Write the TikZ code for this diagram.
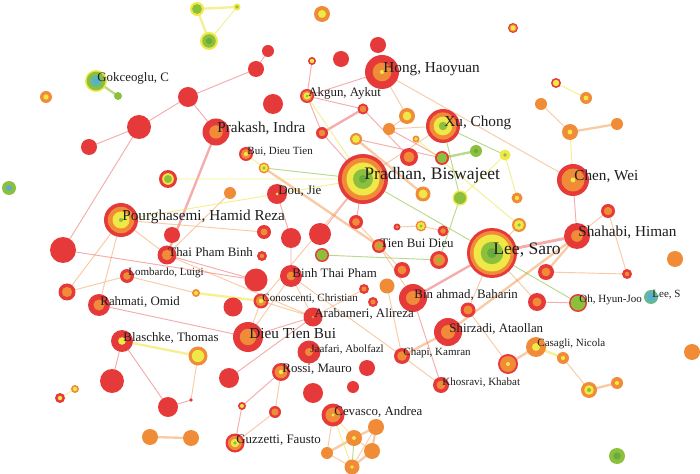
\documentclass[tikz,border=0pt]{standalone}
\usepackage{fontspec}
\setmainfont{Liberation Serif}
\usetikzlibrary{backgrounds}

\definecolor{cR}{RGB}{230,58,58}
\definecolor{cO}{RGB}{240,140,55}
\definecolor{cY}{RGB}{240,232,70}
\definecolor{cG}{RGB}{140,192,60}
\definecolor{cGd}{RGB}{105,172,62}
\definecolor{cT}{RGB}{100,185,150}
\definecolor{cB}{RGB}{90,170,215}
\definecolor{ink}{RGB}{30,30,30}

\tikzset{
  bigtext/.style={font=\fontsize{15}{15}\selectfont, text=ink, anchor=west, inner sep=0pt, xshift=1pt, yshift=1mm},
  midtext/.style={font=\fontsize{13}{13}\selectfont, text=ink, anchor=west, inner sep=0pt, xshift=1pt, yshift=1mm},
  nametext/.style={font=\fontsize{11}{11}\selectfont, text=ink, anchor=west, inner sep=0pt, xshift=1pt, yshift=0.9mm},
  smalltext/.style={font=\fontsize{9.4}{9.4}\selectfont, text=ink, anchor=west, inner sep=0pt, xshift=1pt, yshift=0.8mm}
}
\tikzset{
  redlink/.style={draw=cR, opacity=.42, line width=#1}, redlink/.default=0.8pt,
  orangelink/.style={draw=cO, opacity=.45, line width=#1}, orangelink/.default=0.8pt,
  yellowlink/.style={draw=cY, opacity=.6, line width=#1}, yellowlink/.default=0.8pt,
  greenlink/.style={draw=cG, opacity=.6, line width=#1}, greenlink/.default=0.8pt
}

% author: name, position (px), outer radius (px), rings colour/fraction
\newcommand{\au}[4]{%
  \coordinate (#1) at (#2);
  \foreach \col/\fr in {#4}{\fill[fill=\col] (#1) circle[radius=#3*\fr*0.3mm];}%
}

\begin{document}
\begin{tikzpicture}[x=0.3mm, y=-0.3mm]
  \useasboundingbox (0,0) rectangle (700,474);

  % top left
  \au{g1}{197,9}{7}{cY/1,cG/.7}
  \au{g2}{237,7}{3.5}{cY/1,cG/.5}
  \au{g3}{209,41}{9}{cY/1,cG/.75,cGd/.35}
  \au{gok}{96,81}{11}{cY/1,cG/.85,cT/.55,cB/.25}
  \au{gs}{118,96}{4}{cG/1}
  \au{o2}{46,97}{6}{cO/1,cY/.45}
  \au{gb1}{9,188}{7}{cG/1,cB/.4}
  \au{r1}{268,51}{6}{cR/1}
  \au{r2}{256,69}{8}{cR/1}
  \au{r5}{188,97}{10}{cR/1}
  \au{r6}{139,127}{12}{cR/1}
  \au{r7}{89,147}{8}{cR/1}
  \au{prakash}{216,132}{13.5}{cR/1,cO/.5}
  \au{r8}{273,104}{10}{cR/1}
  \au{ry1}{312,61}{4}{cR/1,cY/.55}
  \au{r3}{341,59}{8}{cR/1}
  \au{o1}{322,14}{8}{cO/1,cY/.5}
  \au{r4}{378,45}{8}{cR/1}
  \au{ry2}{513,28}{5}{cR/1,cO/.75,cY/.5}
  \au{hong}{382,72}{17}{cR/1,cO/.55,cY/.12}
  \au{akgun}{307,96}{7}{cR/1,cO/.75,cY/.5,cG/.2}
  \au{ro1}{322,133}{6}{cR/1,cO/.55}
  \au{ro2}{363,109}{5.5}{cR/1,cO/.6}
  \au{oy1}{407,116}{8}{cO/1,cY/.55}
  \au{o3}{389,129}{6}{cO/1}
  \au{oy2}{416,139}{3.5}{cO/1,cY/.55}
  \au{oy3}{356,139}{6}{cO/1,cY/.65}
  \au{ro3}{409,157}{9}{cR/1,cO/.6}
  \au{rg1}{442,158}{7}{cR/1,cG/.75}
  \au{g4}{476,151}{6}{cG/1,cGd/.35}
  \au{yg1}{505,155}{5.5}{cY/1,cG/.35}
  \au{xu}{443,126}{17}{cR/1,cO/.8,cY/.55,cG/.25}
  \au{pradhan}{363,179}{25}{cR/1,cO/.85,cY/.66,cG/.4,cGd/.16}
  \au{bui}{246,154}{7}{cR/1,cO/.7,cY/.3}
  \au{oyg1}{264,168}{5.5}{cO/1,cY/.7,cG/.3}
  \au{ryg1}{168,179}{9}{cR/1,cY/.65,cG/.45}
  \au{o4}{230,193}{6}{cO/1}
  \au{dou}{277,194}{10}{cR/1,cY/.15}
  \au{pour}{121,220}{17}{cR/1,cO/.78,cY/.5,cG/.12}
  \au{r9}{172,235}{8}{cR/1}
  \au{ro4}{264,232}{7}{cR/1,cO/.5}
  \au{r10}{291,238}{10}{cR/1}
  \au{r11}{320,234}{11}{cR/1}
  \au{ro5}{356,222}{7}{cR/1,cO/.55}
  \au{r12}{397,227}{3.5}{cR/1,cO/.5}
  \au{oyg2}{421,226}{5.5}{cO/1,cY/.7,cG/.3}
  \au{ro6}{443,231}{5.5}{cR/1,cO/.5}
  \au{oy4}{423,194}{7.5}{cO/1,cY/.6}
  \au{yg2}{460,198}{7.5}{cY/1,cG/.8}
  \au{oy5}{517,198}{5.5}{cO/1,cY/.4}
  % right side
  \au{chen}{573,180}{16}{cR/1,cO/.72,cY/.15}
  \au{oy6}{556,83}{5}{cR/1,cY/.65}
  \au{oy7}{586,98}{6}{cO/1,cY/.4}
  \au{o5}{541,104}{6}{cO/1}
  \au{oy8}{570,132}{8}{cO/1,cY/.3}
  \au{o6}{617,124}{6}{cO/1}
  \au{ro7}{608,211}{7}{cR/1,cO/.6}
  \au{oyg3}{519,225}{7}{cO/1,cY/.7,cG/.25}
  \au{shahabi}{577,236}{13}{cR/1,cO/.45}
  \au{lee}{492,253}{25}{cR/1,cO/.88,cY/.74,cG/.45,cGd/.2}
  \au{ro8}{546,272}{8}{cR/1,cO/.55}
  \au{ro9}{627,274}{5}{cR/1,cO/.45}
  \au{o7}{675,259}{8}{cO/1}
  \au{oh}{578,303}{9}{cR/1,cG/.82}
  \au{lees}{651,297}{7}{cT/1,cB/.5}
  \au{ro10}{537,302}{9}{cR/1,cO/.5}
  \au{rog1}{439,260}{9}{cR/1,cO/.65,cG/.25}
  \au{tbd}{379,246}{7}{cR/1,cO/.7,cG/.3}
  \au{rg2}{322,255}{7}{cR/1,cG/.8}
  \au{ro11}{262,256}{5}{cR/1,cO/.45}
  \au{thaipb}{167,255}{9.5}{cR/1,cO/.55}
  \au{r13}{63,250}{13}{cR/1}
  \au{ro12}{402,270}{8}{cR/1,cO/.55}
  \au{o8}{387,286}{7.5}{cO/1}
  \au{ro13}{364,289}{5}{cR/1,cO/.5}
  \au{ro14}{373,302}{5}{cR/1,cO/.5}
  \au{binahmad}{413,298}{14}{cR/1,cO/.5}
  \au{ro15}{468,310}{7.5}{cR/1,cO/.6}
  \au{shirzadi}{448,332}{14}{cR/1,cO/.5}
  \au{chapi}{402,356}{8}{cR/1,cO/.6}
  \au{r14}{367,368}{8}{cR/1}
  \au{r15}{353,387}{6}{cR/1}
  \au{roy1}{508,364}{10}{cR/1,cO/.8,cY/.2}
  \au{casagli}{536,347}{10}{cO/1,cY/.4}
  \au{oy9}{563,358}{6}{cO/1,cY/.35}
  \au{khosravi}{441,385}{8}{cR/1,cO/.55}
  \au{oyg4}{589,390}{8}{cO/1,cY/.6,cG/.25}
  \au{oy10}{617,383}{6}{cO/1,cY/.35}
  \au{o9}{692,352}{8}{cO/1}
  \au{g5}{617,456}{8}{cG/1,cGd/.45}
  % lower left
  \au{lombardo}{127,276}{7}{cR/1,cO/.55}
  \au{ro16}{67,292}{8.5}{cR/1,cO/.6}
  \au{rahmati}{99,305}{11}{cR/1,cO/.5}
  \au{oy11}{196,293}{4}{cO/1,cY/.5}
  \au{r16}{256,280}{11.5}{cR/1}
  \au{binhtp}{291,276}{11}{cR/1,cO/.4}
  \au{conos}{261,301}{7.5}{cR/1,cO/.7,cY/.3}
  \au{r17}{233,307}{9.5}{cR/1}
  \au{arab}{313,317}{9.5}{cR/1,cO/.15}
  \au{dieu}{248,337}{15}{cR/1,cO/.55}
  \au{blaschke}{122,341}{11}{cR/1,cY/.35}
  \au{oy12}{198,356}{9.5}{cO/1,cY/.65}
  \au{r18}{112,381}{12}{cR/1}
  \au{jaafari}{309,352}{11.5}{cR/1,cO/.35}
  \au{rossi}{281,372}{9}{cR/1,cO/.7,cY/.25}
  \au{r19}{229,378}{10}{cR/1}
  \au{r20}{313,393}{10}{cR/1}
  \au{r21}{191,400}{1.8}{cR/1}
  \au{r22}{168,407}{10}{cR/1}
  \au{ry3}{60,398}{5}{cR/1,cY/.45}
  \au{oy13}{75,389}{4}{cO/1,cY/.55}
  \au{ry4}{242,406}{4}{cR/1,cY/.5}
  \au{ro17}{275,412}{6}{cR/1,cO/.6}
  \au{cevasco}{333,415}{11.5}{cR/1,cO/.65,cY/.15}
  \au{o10}{150,437}{8}{cO/1}
  \au{o11}{191,438}{8}{cO/1}
  \au{guzzetti}{235,443}{9.5}{cR/1,cO/.75,cY/.45,cG/.2}
  \au{o12}{327,453}{6}{cO/1}
  \au{o13}{376,427}{8}{cO/1}
  \au{oy14}{354,438}{8}{cO/1,cY/.25}
  \au{o14}{372,451}{8}{cO/1}
  \au{oy15}{352,467}{7.5}{cO/1,cY/.25}

  \begin{pgfonlayer}{background}
    \fill[white] (0,0) rectangle (700,474);
    \draw[redlink] (r2) -- (r1) (r2) -- (r5) (r5) -- (r6) (r6) -- (r7) (r5) -- (prakash)
      (r6) -- (r13) (akgun) -- (ro2) (akgun) -- (ro1) (ro2) -- (ro3) (oy3) -- (rg1)
      (hong) -- (akgun) (o3) -- (rg1) (pradhan) -- (ro5) (pradhan) -- (r11)
      (pradhan) -- (ro1) (dou) -- (r10) (binhtp) -- (r10) (thaipb) -- (r16) (r13) -- (r16)
      (rahmati) -- (dieu) (arab) -- (r19) (arab) -- (dieu) (binahmad) -- (khosravi)
      (ro10) -- (oh) (blaschke) -- (r18) (blaschke) -- (r22) (r22) -- (r21)
      (rossi) -- (ry4) (ry4) -- (guzzetti) (chen) -- (shahabi) (akgun) -- (ry1);
    \draw[redlink=2pt] (prakash) -- (thaipb) (ro1) -- (ro2) (lee) -- (binahmad);
    \draw[redlink=2.5pt] (shahabi) -- (lee);
    \draw[orangelink] (hong) -- (chen) (hong) -- (oy1) (xu) -- (o3) (o3) -- (oy1)
      (pradhan) -- (xu) (pradhan) -- (conos) (oy8) -- (o5) (shahabi) -- (ro7) (ro7) -- (ro9)
      (ro8) -- (ro9) (lee) -- (ro10) (lee) -- (ro15) (tbd) -- (binahmad) (r12) -- (oyg2)
      (oyg2) -- (ro6) (chapi) -- (khosravi) (binhtp) -- (chapi) (ro15) -- (roy1) (o8) -- (chapi)
      (oy9) -- (oyg4) (arab) -- (conos) (arab) -- (binhtp) (arab) -- (thaipb) (dieu) -- (conos)
      (thaipb) -- (pour) (thaipb) -- (o4) (pour) -- (rahmati) (pour) -- (ro16) (pour) -- (ro4)
      (lombardo) -- (oy11) (lombardo) -- (ro16) (r21) -- (oy12) (guzzetti) -- (ro17)
      (ro17) -- (rossi) (cevasco) -- (o12) (oy14) -- (o14) (o13) -- (oy15) (o12) -- (oy15)
      (lee) -- (oyg3) (dieu) -- (binhtp) (ro12) -- (ro5) (arab) -- (ro13);
    \draw[orangelink=2pt] (oy3) -- (oy4) (tbd) -- (oyg1) (shahabi) -- (shirzadi)
      (shahabi) -- (ro8) (chapi) -- (shirzadi) (roy1) -- (casagli) (oyg4) -- (oy10)
      (o10) -- (o11) (oy14) -- (o13) (o13) -- (o14) (o12) -- (oy14) (o14) -- (oy15)
      (oy8) -- (o6);
    \draw[yellowlink] (g2) -- (g3) (pradhan) -- (akgun) (pradhan) -- (ryg1) (pradhan) -- (dou)
      (pour) -- (dou) (bui) -- (oyg1) (yg1) -- (yg2) (yg1) -- (oy5) (oy2) -- (oyg3)
      (chen) -- (oy8) (oy6) -- (oy7) (ry3) -- (oy13) (cevasco) -- (oy14) (cevasco) -- (oy15);
    \draw[yellowlink=2pt] (g1) -- (g2) (g1) -- (g3) (oy11) -- (conos) (blaschke) -- (oy12)
      (casagli) -- (oy9);
    \draw[greenlink] (pradhan) -- (lee) (pradhan) -- (oyg1) (lee) -- (oh) (xu) -- (yg1)
      (xu) -- (yg2) (yg2) -- (rog1) (rg2) -- (rog1) (oy14) -- (oy15);
    \draw[greenlink=2pt] (gok) -- (gs) (rg1) -- (g4);
  \end{pgfonlayer}

  % labels
  \node[bigtext] (tPradhan) at (pradhan) {Pradhan, Biswajeet};
  \node[bigtext] (tLee) at (lee) {Lee, Saro};
  \node[midtext] (tHong) at (hong) {Hong, Haoyuan};
  \node[midtext] (tXu) at (xu) {Xu, Chong};
  \node[midtext] (tChen) at (chen) {Chen, Wei};
  \node[midtext] (tPrakash) at (prakash) {Prakash, Indra};
  \node[midtext] (tPour) at (pour) {Pourghasemi, Hamid Reza};
  \node[midtext] (tShahabi) at (shahabi) {Shahabi, Himan};
  \node[midtext] (tDieu) at (dieu) {Dieu Tien Bui};
  \node[nametext] (tGok) at (gok) {Gokceoglu, C};
  \node[nametext] (tAkgun) at (akgun) {Akgun, Aykut};
  \node[nametext] (tDou) at (dou) {Dou, Jie};
  \node[nametext] (tThaipb) at (thaipb) {Thai Pham Binh};
  \node[nametext] (tBinhtp) at (binhtp) {Binh Thai Pham};
  \node[nametext] (tTbd) at (tbd) {Tien Bui Dieu};
  \node[nametext] (tRahmati) at (rahmati) {Rahmati, Omid};
  \node[nametext] (tArab) at (arab) {Arabameri, Alireza};
  \node[nametext] (tBinahmad) at (binahmad) {Bin ahmad, Baharin};
  \node[nametext] (tShirzadi) at (shirzadi) {Shirzadi, Ataollan};
  \node[nametext] (tBlaschke) at (blaschke) {Blaschke, Thomas};
  \node[nametext] (tRossi) at (rossi) {Rossi, Mauro};
  \node[nametext] (tCevasco) at (cevasco) {Cevasco, Andrea};
  \node[nametext] (tGuzzetti) at (guzzetti) {Guzzetti, Fausto};
  \node[smalltext] (tBui) at (bui) {Bui, Dieu Tien};
  \node[smalltext] (tLombardo) at (lombardo) {Lombardo, Luigi};
  \node[smalltext] (tConos) at (conos) {Conoscenti, Christian};
  \node[smalltext] (tJaafari) at (jaafari) {Jaafari, Abolfazl};
  \node[smalltext] (tChapi) at (chapi) {Chapi, Kamran};
  \node[smalltext] (tKhosravi) at (khosravi) {Khosravi, Khabat};
  \node[smalltext] (tCasagli) at (casagli) {Casagli, Nicola};
  \node[smalltext] (tOh) at (oh) {Oh, Hyun-Joo};
  \node[smalltext] (tLees) at (lees) {Lee, S};
\end{tikzpicture}
\end{document}
